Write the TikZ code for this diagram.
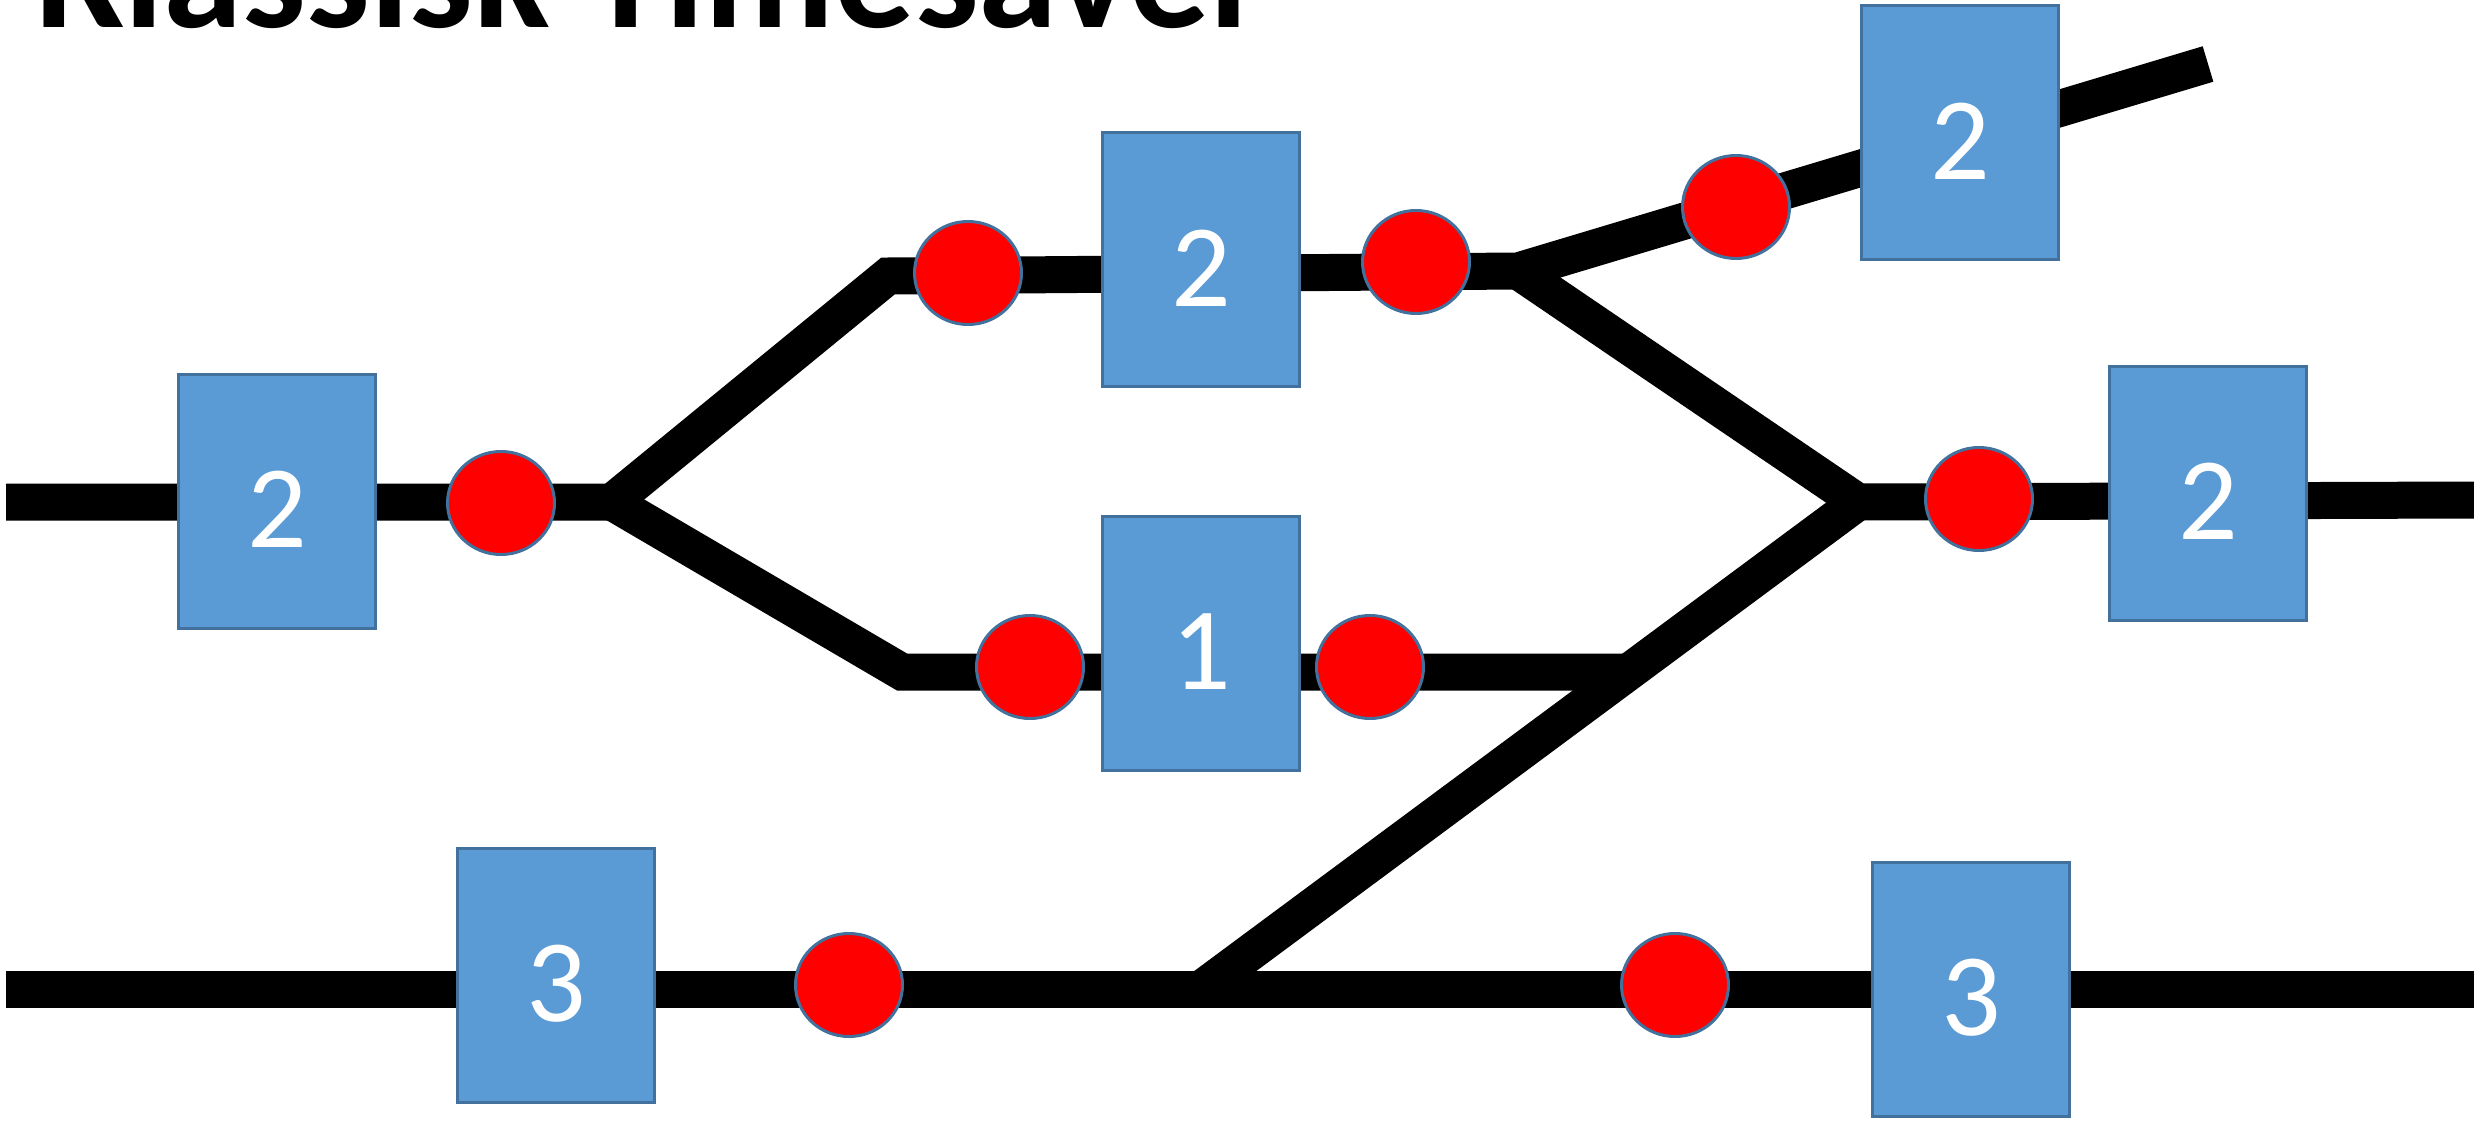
\documentclass[tikz,border=0pt]{standalone}
\usepackage{fontspec}
\setmainfont{Carlito}
\usetikzlibrary{shapes.geometric}
\definecolor{boxblue}{HTML}{5B9BD5}
\definecolor{edgeblue}{HTML}{41719C}

\begin{document}
\begin{tikzpicture}[x=0.1mm, y=-0.1mm]
	\tikzstyle{track}=[line width=3.7mm, line join=miter]
	\tikzstyle{blk}=[rectangle, draw=edgeblue, line width=0.3mm, fill=boxblue, minimum width=19.7mm, minimum height=25.4mm, inner sep=0pt, text=white, font=\fontsize{33.5}{40}\selectfont, text height=9.3mm, text depth=0pt]
	\tikzstyle{sigc}=[ellipse, draw=edgeblue, line width=0.3mm, fill=red, minimum width=10.7mm, minimum height=10.3mm, inner sep=0pt]
	\useasboundingbox (0,0) rectangle (2474,1122);
	
	\node (title) at (36,28) [anchor=base west, inner sep=0pt, font=\fontsize{45.5}{52}\selectfont\bfseries] {Klassisk Timesaver};
	
	% track points
	\coordinate (w0) at (6,502);
	\coordinate (j1) at (612,502);
	\coordinate (u1) at (888,276);
	\coordinate (j2) at (1518,271);
	\coordinate (ne) at (2208,64);
	\coordinate (l1) at (902,672);
	\coordinate (l2) at (1632,672);
	\coordinate (j3) at (1858,502);
	\coordinate (ee) at (2474,500);
	\coordinate (bf) at (1201,989);
	\coordinate (w1) at (6,989);
	\coordinate (e1) at (2474,989);
	
	\draw[track] (w0) -- (j1) -- (u1) -- (j2) -- (ne);
	\draw[track] (j1) -- (l1) -- (l2);
	\draw[track] (j2) -- (j3) -- (ee);
	\draw[track] (j3) -- (bf);
	\draw[track] (w1) -- (e1);
	
	% blocks
	\node (blk1) at (277,501) [blk] {2};
	\node (blk2) at (1201,260) [blk] {2};
	\node (blk3) at (1201,643) [blk] {1};
	\node (blk4) at (1960,133) [blk] {2};
	\node (blk5) at (2208,493) [blk] {2};
	\node (blk6) at (556,975) [blk] {3};
	\node (blk7) at (1971,989) [blk] {3};
	
	% signals
	\node (sig1) at (501,503) [sigc] {};
	\node (sig2) at (968,273) [sigc] {};
	\node (sig3) at (1416,262) [sigc] {};
	\node (sig4) at (1736,207) [sigc] {};
	\node (sig5) at (1979,499) [sigc] {};
	\node (sig6) at (1030,667) [sigc] {};
	\node (sig7) at (1370,667) [sigc] {};
	\node (sig8) at (849,985) [sigc] {};
	\node (sig9) at (1675,985) [sigc] {};
\end{tikzpicture}
\end{document}
